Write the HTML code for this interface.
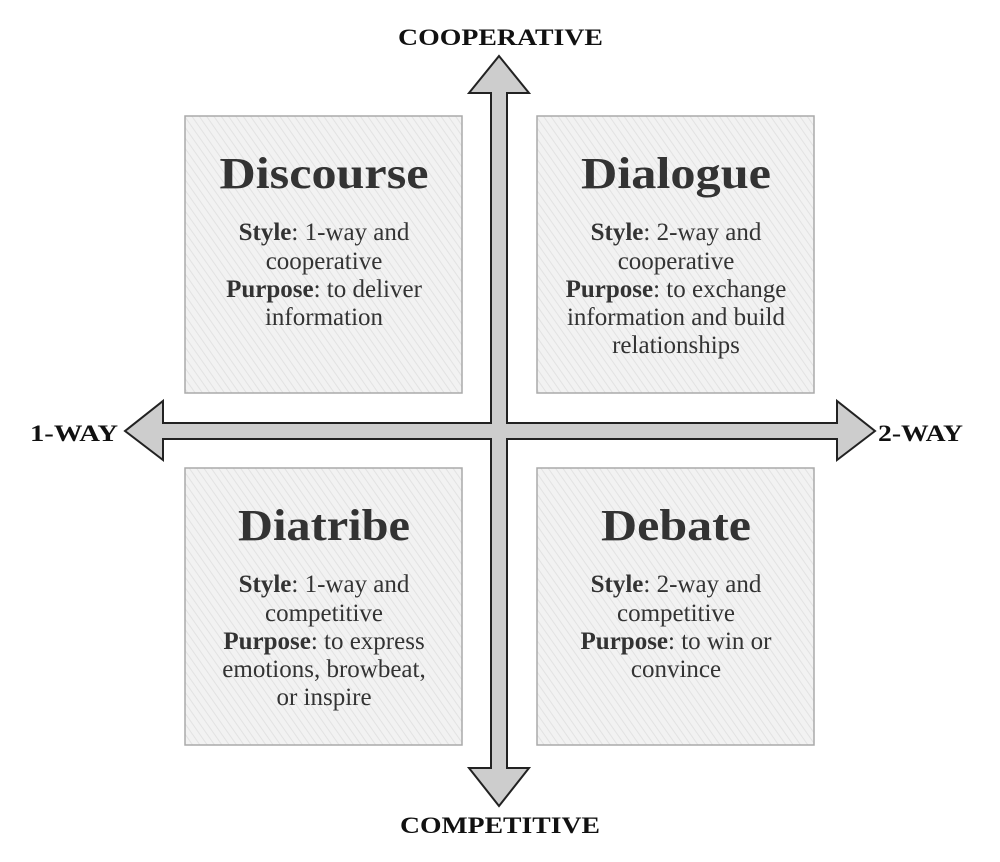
<!DOCTYPE html>
<html><head><meta charset="utf-8"><style>
html,body{margin:0;padding:0;background:#fff;}
svg{display:block;}
text{font-family:"Liberation Serif",serif;fill:#333;}
.t{font-size:44px;font-weight:bold;text-anchor:middle;}
.b{font-size:25px;text-anchor:middle;}
.l{font-size:23px;font-weight:bold;fill:#111;}
</style></head><body>
<svg width="1000" height="862" viewBox="0 0 1000 862" xmlns="http://www.w3.org/2000/svg">
<defs>
<pattern id="h" width="6" height="6" patternUnits="userSpaceOnUse" patternTransform="rotate(-35)">
<rect width="6" height="6" fill="#f2f2f2"/>
<line x1="0" y1="0" x2="0" y2="6" stroke="#e2e2e2" stroke-width="2"/>
</pattern>
</defs>
<g stroke="#aaa" stroke-width="1.5" fill="url(#h)">
<rect x="185" y="116" width="277" height="277"/>
<rect x="537" y="116" width="277" height="277"/>
<rect x="185" y="468" width="277" height="277"/>
<rect x="537" y="468" width="277" height="277"/>
</g>
<path d="M499,56 L529,93 L507,93 L507,423 L837,423 L837,401 L875,431 L837,460 L837,439 L507,439 L507,768 L529,768 L499,806 L469,768 L491,768 L491,439 L163,439 L163,460 L125,431 L163,401 L163,423 L491,423 L491,93 L469,93 Z" fill="#cdcdcd" stroke="#222" stroke-width="2" stroke-linejoin="miter"/>
<text class="l" x="398" y="45" textLength="205" lengthAdjust="spacingAndGlyphs">COOPERATIVE</text>
<text class="l" x="400" y="833" textLength="200" lengthAdjust="spacingAndGlyphs">COMPETITIVE</text>
<text class="l" x="30" y="441" textLength="88" lengthAdjust="spacingAndGlyphs">1-WAY</text>
<text class="l" x="878" y="441" textLength="85" lengthAdjust="spacingAndGlyphs">2-WAY</text>

<text class="t" x="324" y="188" textLength="209" lengthAdjust="spacingAndGlyphs">Discourse</text>
<text class="b" x="324" y="240"><tspan font-weight="bold">Style</tspan>: 1-way and</text>
<text class="b" x="324" y="269">cooperative</text>
<text class="b" x="324" y="297"><tspan font-weight="bold">Purpose</tspan>: to deliver</text>
<text class="b" x="324" y="325">information</text>

<text class="t" x="676" y="188" textLength="190" lengthAdjust="spacingAndGlyphs">Dialogue</text>
<text class="b" x="676" y="240"><tspan font-weight="bold">Style</tspan>: 2-way and</text>
<text class="b" x="676" y="269">cooperative</text>
<text class="b" x="676" y="297"><tspan font-weight="bold">Purpose</tspan>: to exchange</text>
<text class="b" x="676" y="325">information and build</text>
<text class="b" x="676" y="353">relationships</text>

<text class="t" x="324" y="540" textLength="172" lengthAdjust="spacingAndGlyphs">Diatribe</text>
<text class="b" x="324" y="592"><tspan font-weight="bold">Style</tspan>: 1-way and</text>
<text class="b" x="324" y="621">competitive</text>
<text class="b" x="324" y="649"><tspan font-weight="bold">Purpose</tspan>: to express</text>
<text class="b" x="324" y="677">emotions, browbeat,</text>
<text class="b" x="324" y="705">or inspire</text>

<text class="t" x="676" y="540" textLength="150" lengthAdjust="spacingAndGlyphs">Debate</text>
<text class="b" x="676" y="592"><tspan font-weight="bold">Style</tspan>: 2-way and</text>
<text class="b" x="676" y="621">competitive</text>
<text class="b" x="676" y="649"><tspan font-weight="bold">Purpose</tspan>: to win or</text>
<text class="b" x="676" y="677">convince</text>
</svg>
</body></html>
